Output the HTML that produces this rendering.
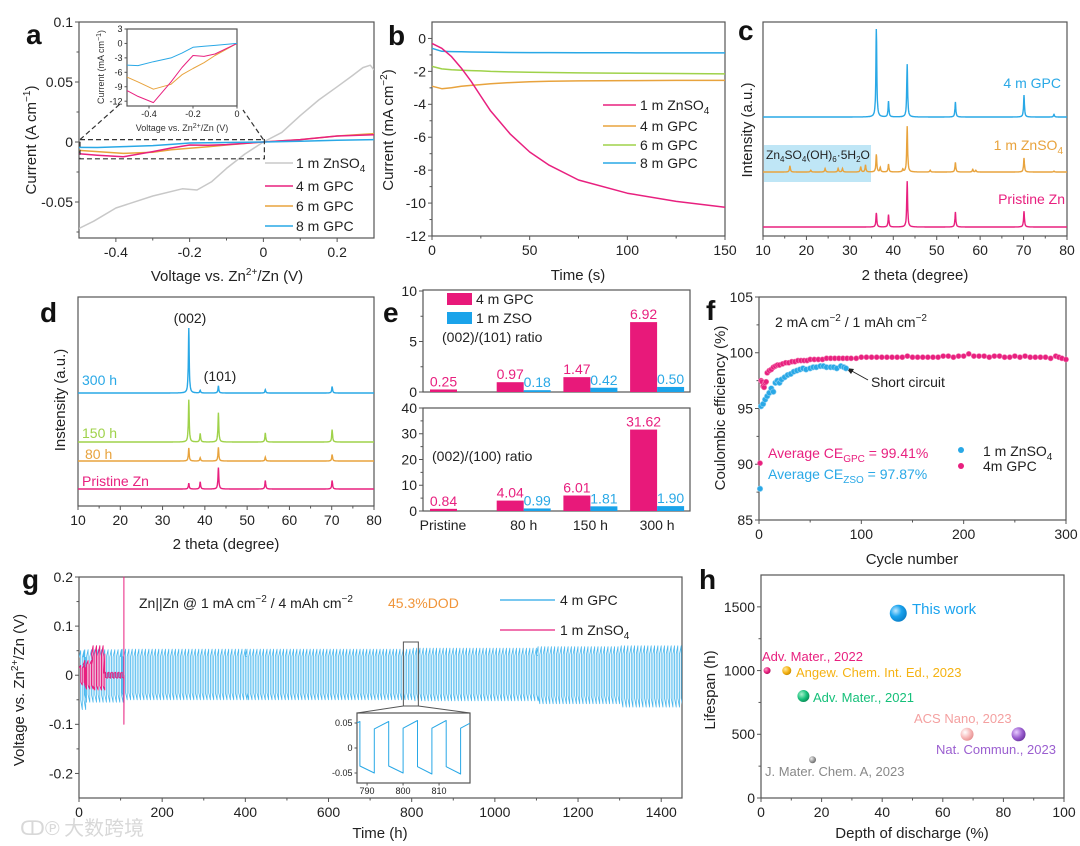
<!DOCTYPE html>
<html><head><meta charset="utf-8"><style>
html,body{margin:0;padding:0;background:#fff;}
svg{display:block;font-family:"Liberation Sans","Noto Sans CJK SC",sans-serif;}
.t{font-size:14px;fill:#222}
.ti{font-size:15px;fill:#222}
.pl{font-size:28px;font-weight:bold;fill:#111}
</style></head><body>
<svg id="fig" width="1080" height="846" viewBox="0 0 1080 846">
<defs>
<clipPath id="clipA"><rect x="79" y="22" width="295" height="216"/></clipPath>
<clipPath id="clipAi"><rect x="127" y="29" width="110" height="77"/></clipPath>
<clipPath id="clipG"><rect x="79" y="560" width="603" height="238"/></clipPath>
<clipPath id="clipGi"><rect x="357" y="713" width="113" height="70"/></clipPath>
<radialGradient id="gBlue" cx="35%" cy="35%" r="70%"><stop offset="0" stop-color="#bfe8ff"/><stop offset="0.5" stop-color="#1aa3ee"/><stop offset="1" stop-color="#0a7fc8"/></radialGradient>
<radialGradient id="gPink" cx="35%" cy="35%" r="70%"><stop offset="0" stop-color="#ff9cc4"/><stop offset="0.6" stop-color="#e8207f"/><stop offset="1" stop-color="#b0105e"/></radialGradient>
<radialGradient id="gOr" cx="35%" cy="35%" r="70%"><stop offset="0" stop-color="#ffe9a0"/><stop offset="0.6" stop-color="#f5b212"/><stop offset="1" stop-color="#c88a00"/></radialGradient>
<radialGradient id="gGr" cx="35%" cy="35%" r="70%"><stop offset="0" stop-color="#a8f0cc"/><stop offset="0.6" stop-color="#16c07a"/><stop offset="1" stop-color="#0a8a55"/></radialGradient>
<radialGradient id="gGy" cx="35%" cy="35%" r="70%"><stop offset="0" stop-color="#eee"/><stop offset="0.6" stop-color="#999"/><stop offset="1" stop-color="#666"/></radialGradient>
<radialGradient id="gLp" cx="35%" cy="35%" r="70%"><stop offset="0" stop-color="#fff"/><stop offset="0.6" stop-color="#f7b8b8"/><stop offset="1" stop-color="#e59090"/></radialGradient>
<radialGradient id="gPu" cx="35%" cy="35%" r="70%"><stop offset="0" stop-color="#e8ccff"/><stop offset="0.6" stop-color="#9b5fd0"/><stop offset="1" stop-color="#6c36a0"/></radialGradient>
</defs>

<text class="pl" x="26" y="44">a</text>
<text class="pl" x="388" y="45">b</text>
<text class="pl" x="738" y="40">c</text>
<text class="pl" x="40" y="322">d</text>
<text class="pl" x="383" y="322">e</text>
<text class="pl" x="706" y="320">f</text>
<text class="pl" x="22" y="589">g</text>
<text class="pl" x="699" y="589">h</text>

<text class="ti" transform="translate(36,140) rotate(-90)" text-anchor="middle">Current (A cm<tspan dy="-6" font-size="10">−1</tspan><tspan dy="6">)</tspan></text>
<text class="ti" x="227" y="281" text-anchor="middle">Voltage vs. Zn<tspan dy="-6" font-size="10">2+</tspan><tspan dy="6">/Zn (V)</tspan></text>
<text class="ti" transform="translate(393,130) rotate(-90)" text-anchor="middle">Current (mA cm<tspan dy="-6" font-size="10">−2</tspan><tspan dy="6">)</tspan></text>
<text class="ti" x="578" y="280" text-anchor="middle">Time (s)</text>
<text class="ti" transform="translate(752,130) rotate(-90)" text-anchor="middle">Intensity (a.u.)</text>
<text class="ti" x="915" y="280" text-anchor="middle">2 theta (degree)</text>
<text class="ti" transform="translate(65,400) rotate(-90)" text-anchor="middle">Instensity (a.u.)</text>
<text class="ti" x="226" y="549" text-anchor="middle">2 theta (degree)</text>
<text class="ti" transform="translate(725,408) rotate(-90)" text-anchor="middle">Coulombic efficiency (%)</text>
<text class="ti" x="912" y="564" text-anchor="middle">Cycle number</text>
<text class="ti" transform="translate(24,690) rotate(-90)" text-anchor="middle">Voltage vs. Zn<tspan dy="-6" font-size="10">2+</tspan><tspan dy="6">/Zn (V)</tspan></text>
<text class="ti" x="380" y="838" text-anchor="middle">Time (h)</text>
<text class="ti" transform="translate(715,690) rotate(-90)" text-anchor="middle">Lifespan (h)</text>
<text class="ti" x="912" y="838" text-anchor="middle">Depth of discharge (%)</text>

<g>
<line x1="265" y1="163" x2="293" y2="163" stroke="#c8c8c8" stroke-width="1.5"/><text class="t" x="296" y="168">1 m ZnSO<tspan dy="4" font-size="10">4</tspan></text>
<line x1="265" y1="186" x2="293" y2="186" stroke="#e8207f" stroke-width="1.5"/><text class="t" x="296" y="191">4 m GPC</text>
<line x1="265" y1="206" x2="293" y2="206" stroke="#e8a33d" stroke-width="1.5"/><text class="t" x="296" y="211">6 m GPC</text>
<line x1="265" y1="226" x2="293" y2="226" stroke="#29a8e6" stroke-width="1.5"/><text class="t" x="296" y="231">8 m GPC</text>
</g>
<text x="182" y="131" font-size="9" fill="#333" text-anchor="middle">Voltage vs. Zn<tspan dy="-3" font-size="7">2+</tspan><tspan dy="3">/Zn (V)</tspan></text>
<text transform="translate(104,67) rotate(-90)" font-size="9" fill="#333" text-anchor="middle">Current (mA cm<tspan dy="-3" font-size="7">−1</tspan><tspan dy="3">)</tspan></text>

<g>
<line x1="603" y1="105" x2="636" y2="105" stroke="#e8207f" stroke-width="1.5"/><text class="t" x="640" y="110">1 m ZnSO<tspan dy="4" font-size="10">4</tspan></text>
<line x1="603" y1="126" x2="636" y2="126" stroke="#e8a33d" stroke-width="1.5"/><text class="t" x="640" y="131">4 m GPC</text>
<line x1="603" y1="145" x2="636" y2="145" stroke="#9fd24a" stroke-width="1.5"/><text class="t" x="640" y="150">6 m GPC</text>
<line x1="603" y1="163" x2="636" y2="163" stroke="#29a8e6" stroke-width="1.5"/><text class="t" x="640" y="168">8 m GPC</text>
</g>

<rect x="764" y="145" width="107" height="37" fill="#bfe6f6"/>
<text x="766" y="159" font-size="12" fill="#222">Zn<tspan dy="3" font-size="8">4</tspan><tspan dy="-3">SO</tspan><tspan dy="3" font-size="8">4</tspan><tspan dy="-3">(OH)</tspan><tspan dy="3" font-size="8">6</tspan><tspan dy="-3">·5H</tspan><tspan dy="3" font-size="8">2</tspan><tspan dy="-3">O</tspan></text>
<text class="t" x="1061" y="88" text-anchor="end" style="fill:#29a8e6">4 m GPC</text>
<text class="t" x="1063" y="150" text-anchor="end" style="fill:#e8a33d">1 m ZnSO<tspan dy="4" font-size="10">4</tspan></text>
<text class="t" x="1065" y="204" text-anchor="end" style="fill:#e8207f">Pristine Zn</text>

<text class="t" x="82" y="385" style="fill:#29a8e6">300 h</text>
<text class="t" x="82" y="438" style="fill:#9fd24a">150 h</text>
<text class="t" x="85" y="459" style="fill:#e8a33d">80 h</text>
<text class="t" x="82" y="486" style="fill:#e8207f">Pristine Zn</text>
<text class="t" x="190" y="323" text-anchor="middle">(002)</text>
<text class="t" x="220" y="381" text-anchor="middle">(101)</text>

<g>
<rect x="447" y="293" width="25" height="12" fill="#e8197a"/><text class="t" x="476" y="304">4 m GPC</text>
<rect x="447" y="312" width="25" height="12" fill="#1aa3ea"/><text class="t" x="476" y="323">1 m ZSO</text>
</g>
<text class="t" x="442" y="342">(002)/(101) ratio</text>
<text class="t" x="432" y="461">(002)/(100) ratio</text>

<text class="t" x="775" y="327">2 mA cm<tspan dy="-6" font-size="10">−2</tspan><tspan dy="6"> / 1 mAh cm</tspan><tspan dy="-6" font-size="10">−2</tspan></text>
<text class="t" x="871" y="387">Short circuit</text>
<line x1="868" y1="380" x2="850" y2="370" stroke="#222" stroke-width="1"/>
<polygon points="846,368 854,369 851,374" fill="#222"/>
<text class="t" x="768" y="458" style="fill:#e8207f">Average CE<tspan dy="4" font-size="10">GPC</tspan><tspan dy="-4"> = 99.41%</tspan></text>
<text class="t" x="768" y="479" style="fill:#29a8e6">Average CE<tspan dy="4" font-size="10">ZSO</tspan><tspan dy="-4"> = 97.87%</tspan></text>
<g>
<circle cx="961" cy="450" r="3" fill="#29a8e6"/><text class="t" x="983" y="456">1 m ZnSO<tspan dy="4" font-size="10">4</tspan></text>
<circle cx="961" cy="466" r="3" fill="#e8207f"/><text class="t" x="983" y="471">4m GPC</text>
</g>

<text class="t" x="139" y="608">Zn||Zn @ 1 mA cm<tspan dy="-6" font-size="10">−2</tspan><tspan dy="6"> / 4 mAh cm</tspan><tspan dy="-6" font-size="10">−2</tspan></text>
<text class="t" x="388" y="608" style="fill:#f0953a">45.3%DOD</text>
<g>
<line x1="500" y1="600" x2="555" y2="600" stroke="#29a8e6" stroke-width="1.2"/><text class="t" x="560" y="605">4 m GPC</text>
<line x1="500" y1="630" x2="555" y2="630" stroke="#e8207f" stroke-width="1.2"/><text class="t" x="560" y="635">1 m ZnSO<tspan dy="4" font-size="10">4</tspan></text>
</g>
<text x="20" y="835" font-size="20" fill="#d8d8d8" font-family="'Noto Sans CJK SC',sans-serif">ↀ℗ 大数跨境</text>
</svg>
<script>
// ---------- DATA ----------
const aV = [-0.5,-0.46,-0.4,-0.3,-0.22,-0.18,-0.14,-0.1,-0.05,0,0.05,0.1,0.15,0.2,0.24,0.27,0.29,0.3];
const aGrey = [-0.072,-0.066,-0.055,-0.045,-0.039,-0.04,-0.033,-0.022,-0.01,0,0.008,0.022,0.035,0.046,0.055,0.062,0.064,0.06];
const aVg = [-0.5,-0.45,-0.38,-0.3,-0.25,-0.2,-0.15,-0.1,0,0.1,0.2,0.3];
const a4m = [-0.0098,-0.011,-0.0123,-0.008,-0.005,-0.0025,-0.0027,-0.0022,0,0.002,0.005,0.006];
const a6m = [-0.007,-0.008,-0.0095,-0.0085,-0.0065,-0.0052,-0.004,-0.0025,0,0.002,0.005,0.007];
const a8m = [-0.0045,-0.0046,-0.0038,-0.003,-0.002,-0.0008,-0.0006,-0.0004,0,0.0007,0.0014,0.002];
const bT = [0,5,10,15,20,25,30,40,50,60,75,100,125,150];
const b1m = [-0.3,-0.6,-1.1,-1.8,-2.6,-3.5,-4.4,-5.8,-6.9,-7.7,-8.6,-9.4,-9.9,-10.25];
const b4m = [-2.9,-3.05,-3.0,-2.9,-2.85,-2.8,-2.75,-2.68,-2.63,-2.6,-2.58,-2.56,-2.55,-2.55];
const b6m = [-1.7,-1.85,-1.9,-1.93,-1.95,-1.97,-2.0,-2.03,-2.05,-2.07,-2.09,-2.11,-2.13,-2.15];
const b8m = [-0.6,-0.78,-0.8,-0.81,-0.82,-0.83,-0.84,-0.85,-0.86,-0.86,-0.87,-0.87,-0.88,-0.88];
const cPos = [16.2,21,24.3,27.3,28.3,32.5,33.6,36.1,37,38.9,42.2,43.2,48.5,54.3,58.3,59,70.1,77];
const cGPC = [0,0,0,0,0,0,0,1.0,0,0.18,0,0.6,0,0.17,0,0,0.25,0.03];
const cZSO = [0.07,0.02,0.04,0.04,0.04,0.06,0.08,0.2,0.05,0.09,0.03,0.52,0.02,0.11,0.03,0.02,0.16,0.01];
const cPri = [0,0,0,0,0,0,0,0.16,0,0.14,0,0.52,0,0.17,0,0,0.18,0];
const dPos = [36.2,38.9,43.2,54.3,70.1];
const d300 = [1.0,0.04,0.11,0.05,0.1];
const d150 = [0.65,0.13,0.45,0.14,0.19];
const d80 = [0.2,0.05,0.21,0.06,0.1];
const dPri = [0.09,0.11,0.33,0.13,0.13];
const eCats = ['Pristine','80 h','150 h','300 h'];
const eTopGPC = [0.25,0.97,1.47,6.92];
const eTopZSO = [null,0.18,0.42,0.50];
const eBotGPC = [0.84,4.04,6.01,31.62];
const eBotZSO = [null,0.99,1.81,1.90];
const fCycGPC = [1,2,3,4,5,6,7,8,10,12,14,16,18,20,23,26,29,32,35,38,41,44,47,50,54,58,62,66,70,74,78,82,86,90,95,100,105,110,115,120,125,130,135,140,145,150,155,160,165,170,175,180,185,190,195,200,205,210,215,220,225,230,235,240,245,250,255,260,265,270,275,280,285,290,293,296,300];
const fCEGPC = [90.1,97.5,97.4,97.0,96.9,97.3,97.4,98.2,98.4,98.5,98.7,98.8,98.9,98.9,99.0,99.1,99.1,99.2,99.2,99.3,99.3,99.3,99.3,99.4,99.4,99.4,99.4,99.5,99.5,99.5,99.5,99.5,99.5,99.5,99.5,99.6,99.6,99.6,99.6,99.6,99.6,99.6,99.6,99.6,99.7,99.6,99.6,99.6,99.6,99.6,99.6,99.7,99.7,99.6,99.7,99.7,99.9,99.7,99.7,99.7,99.6,99.7,99.7,99.6,99.6,99.7,99.6,99.7,99.6,99.6,99.6,99.6,99.5,99.7,99.6,99.5,99.4];
const fCycZSO = [1,2,4,6,8,10,12,14,16,18,20,22,25,28,31,34,37,40,43,46,50,53,56,60,63,66,70,73,76,80,83,85];
const fCEZSO = [87.8,95.2,95.4,95.8,96.1,96.4,96.8,96.5,97.3,97.5,97.3,97.6,97.8,98.0,98.1,98.3,98.4,98.5,98.6,98.5,98.6,98.7,98.7,98.8,98.8,98.7,98.7,98.7,98.6,98.8,98.7,98.6];
const gPeriod = 8;
const gGPCStart = [0,10,100,400,800,1100,1300];
const gGPCPos = [0.05,0.052,0.053,0.053,0.055,0.058,0.06];
const gGPCNeg = [-0.07,-0.055,-0.05,-0.05,-0.052,-0.058,-0.065];
const gGPCEnd = 1450;
const gZSOStart = [0,10,30,60];
const gZSOPos = [0.02,0.03,0.06,0.006];
const gZSONeg = [-0.02,-0.028,-0.03,-0.006];
const gZSOEnd = 108;
const gZSOSpikeHi = 0.2;
const gZSOSpikeLo = -0.1;
const hDOD = [2,8.5,14,17,45.3,68,85];
const hLife = [1000,1000,800,300,1450,500,500];
const hNames = ['Adv. Mater., 2022','Angew. Chem. Int. Ed., 2023','Adv. Mater., 2021','J. Mater. Chem. A, 2023','This work','ACS Nano, 2023','Nat. Commun., 2023'];

// ---------- HELPERS ----------
const NS='http://www.w3.org/2000/svg';
const svg=document.getElementById('fig');
function mk(tag,attrs,name,parent){
  const el=document.createElementNS(NS,tag);
  for(const k in attrs) el.setAttribute(k,attrs[k]);
  
  
  (parent||svg).appendChild(el);return el;
}
function lin(d0,d1,r0,r1){return v=>r0+(v-d0)*(r1-r0)/(d1-d0);}
function axes(o){
  const X=lin(o.xd[0],o.xd[1],o.x0,o.x1), Y=lin(o.yd[0],o.yd[1],o.y1,o.y0);
  const g=mk('g',{},o.name+'-axes');
  mk('rect',{x:o.x0,y:o.y0,width:o.x1-o.x0,height:o.y1-o.y0,fill:'none',stroke:'#555','stroke-width':1.2},o.name+'-frame',g);
  const fs=o.fs||14;
  const tl=fs<12?2.5:4;
  (o.xt||[]).forEach((v,i)=>{const x=X(v);
    mk('line',{x1:x,y1:o.y1,x2:x,y2:o.y1+tl,stroke:'#555'},o.name+'-x-tick',g);
    const t=mk('text',{x:x,y:o.y1+fs+(fs<12?2:5),'text-anchor':'middle','font-size':fs,fill:'#222'},o.name+'-x-tick-label',g);t.textContent=o.xl?o.xl[i]:v;});
  (o.xm||[]).forEach(v=>{const x=X(v);mk('line',{x1:x,y1:o.y1,x2:x,y2:o.y1+2.5,stroke:'#555'},o.name+'-x-minor-tick',g);});
  (o.yt||[]).forEach((v,i)=>{const y=Y(v);
    mk('line',{x1:o.x0-tl,y1:y,x2:o.x0,y2:y,stroke:'#555'},o.name+'-y-tick',g);
    const t=mk('text',{x:o.x0-tl-2,y:y+fs*0.35,'text-anchor':'end','font-size':fs,fill:'#222'},o.name+'-y-tick-label',g);t.textContent=o.yl?o.yl[i]:v;});
  (o.ym||[]).forEach(v=>{const y=Y(v);mk('line',{x1:o.x0-2.5,y1:y,x2:o.x0,y2:y,stroke:'#555'},o.name+'-y-minor-tick',g);});
  return {X,Y};
}
function line(X,Y,xs,ys,color,name,clip,w){
  const pts=xs.map((x,i)=>X(x).toFixed(1)+','+Y(ys[i]).toFixed(1)).join(' ');
  const a={points:pts,fill:'none',stroke:color,'stroke-width':w||1.5,'stroke-linejoin':'round'};
  if(clip)a['clip-path']='url(#'+clip+')';
  return mk('polyline',a,name);
}
const PINK='#e8207f',BLUE='#29a8e6',ORG='#e8a33d',GRN='#9fd24a',GREY='#c8c8c8';

// ---------- PANEL A ----------
(function(){
  const A=axes({name:'a',x0:79,x1:374,y0:22,y1:238,xd:[-0.5,0.3],yd:[-0.08,0.1],xt:[-0.4,-0.2,0,0.2],xl:['-0.4','-0.2','0','0.2'],xm:[-0.3,-0.1,0.1],yt:[0.1,0.05,0,-0.05],yl:['0.1','0.05','0','-0.05'],ym:[0.075,0.025,-0.025,-0.075]});
  line(A.X,A.Y,aV,aGrey,GREY,'a-series-1m-znso4','clipA');
  line(A.X,A.Y,aVg,a6m,ORG,'a-series-6m-gpc','clipA');
  line(A.X,A.Y,aVg,a4m,PINK,'a-series-4m-gpc','clipA');
  line(A.X,A.Y,aVg,a8m,BLUE,'a-series-8m-gpc','clipA');
  const x1=A.X(-0.5),x2=A.X(0),y1=A.Y(0.002),y2=A.Y(-0.014);
  mk('rect',{x:x1+1,y:y1,width:x2-x1,height:y2-y1,fill:'none',stroke:'#333','stroke-dasharray':'5,3','stroke-width':1.2},'a-zoom-region');
  mk('line',{x1:x1+1,y1:y1,x2:120,y2:104,stroke:'#333','stroke-dasharray':'5,3','stroke-width':1.2},'a-zoom-connector-left');
  mk('line',{x1:x2,y1:y1,x2:243,y2:110,stroke:'#333','stroke-dasharray':'5,3','stroke-width':1.2},'a-zoom-connector-right');
  mk('rect',{x:126,y:28,width:112,height:80,fill:'#fff'},'a-inset-bg');
  const I=axes({name:'a-inset',x0:127,x1:237,y0:29,y1:106,xd:[-0.5,0],yd:[-13,3],xt:[-0.4,-0.2,0],xl:['-0.4','-0.2','0'],yt:[3,0,-3,-6,-9,-12],yl:['3','0','-3','-6','-9','-12'],fs:9});
  const mA=v=>v*1000;
  const sel=(xs,ys)=>{const px=[],py=[];xs.forEach((x,i)=>{if(x<=0){px.push(x);py.push(mA(ys[i]));}});return [px,py];};
  let s=sel(aVg,a6m);line(I.X,I.Y,s[0],s[1],ORG,'a-inset-6m-gpc','clipAi',1);
  s=sel(aVg,a4m);line(I.X,I.Y,s[0],s[1],PINK,'a-inset-4m-gpc','clipAi',1);
  s=sel(aVg,a8m);line(I.X,I.Y,s[0],s[1],BLUE,'a-inset-8m-gpc','clipAi',1);
})();

// ---------- PANEL B ----------
(function(){
  const yt=[0,-2,-4,-6,-8,-10,-12];
  const B=axes({name:'b',x0:432,x1:725,y0:22,y1:236,xd:[0,150],yd:[-12,1],xt:[0,50,100,150],xm:[25,75,125],yt:yt,yl:yt.map(String),ym:[-1,-3,-5,-7,-9,-11]});
  line(B.X,B.Y,bT,b4m,ORG,'b-series-4m-gpc');
  line(B.X,B.Y,bT,b6m,GRN,'b-series-6m-gpc');
  line(B.X,B.Y,bT,b8m,BLUE,'b-series-8m-gpc');
  line(B.X,B.Y,bT,b1m,PINK,'b-series-1m-znso4');
})();

function xrd(P,pos,h,base,scale,color,name,lo){
  const xs=[],ys=[];
  for(let x=lo;x<=80.001;x+=0.05){
    let v=0;pos.forEach((p,i)=>{const d=(x-p)/0.12;v+=h[i]/(1+d*d);});
    xs.push(x);ys.push(base-v*scale);
  }
  const pts=xs.map((x,i)=>P.X(x).toFixed(1)+','+ys[i].toFixed(1)).join(' ');
  mk('polyline',{points:pts,fill:'none',stroke:color,'stroke-width':1.4},name);
}
(function(){
  const t=[10,20,30,40,50,60,70,80];
  const C=axes({name:'c',x0:763,x1:1067,y0:22,y1:236,xd:[10,80],yd:[0,1],xt:t,xm:[15,25,35,45,55,65,75]});
  xrd(C,cPos,cGPC,117,88,BLUE,'c-series-4m-gpc',10);
  xrd(C,cPos,cZSO,172,88,ORG,'c-series-1m-znso4',10);
  xrd(C,cPos,cPri,227,88,PINK,'c-series-pristine',10);
})();
(function(){
  const t=[10,20,30,40,50,60,70,80];
  const D=axes({name:'d',x0:78,x1:374,y0:297,y1:506,xd:[10,80],yd:[0,1],xt:t,xm:[15,25,35,45,55,65,75]});
  xrd(D,dPos,d300,393,65,BLUE,'d-series-300h',10);
  xrd(D,dPos,d150,442,65,GRN,'d-series-150h',10);
  xrd(D,dPos,d80,461,65,ORG,'d-series-80h',10);
  xrd(D,dPos,dPri,489,65,PINK,'d-series-pristine',10);
})();

(function(){
  const T=axes({name:'e-top',x0:423,x1:690,y0:290,y1:392,xd:[0,4],yd:[0,10.1],yt:[0,5,10],yl:['0','5','10'],ym:[2.5,7.5]});
  const Bt=axes({name:'e-bottom',x0:423,x1:690,y0:408,y1:511,xd:[0,4],yd:[0,40],yt:[0,10,20,30,40],ym:[5,15,25,35]});
  const xc=i=>457+66.7*i, bw=27;
  function bars(P,vals,off,color,tcolor,name){
    vals.forEach((v,i)=>{ if(v===null)return;
      const x=xc(i)+off, y=P.Y(v), y0=P.Y(0);
      mk('rect',{x:x,y:y,width:bw,height:y0-y,fill:color},name+'-bar-'+i);
      const t=mk('text',{x:x+bw/2,y:y-3,'text-anchor':'middle','font-size':14,fill:tcolor},name+'-value-'+i);
      t.textContent=v.toFixed(2);
    });
  }
  bars(T,eTopGPC,-bw,'#e8197a',PINK,'e-top-gpc');
  bars(T,eTopZSO,0,'#1aa3ea',BLUE,'e-top-zso');
  bars(Bt,eBotGPC,-bw,'#e8197a',PINK,'e-bottom-gpc');
  bars(Bt,eBotZSO,0,'#1aa3ea',BLUE,'e-bottom-zso');
  eCats.forEach((c,i)=>{const t=mk('text',{x:i===0?443:xc(i),y:530,'text-anchor':'middle','font-size':14,fill:'#222'},'e-category-label');t.textContent=c;});
})();

(function(){
  const F=axes({name:'f',x0:759,x1:1066,y0:297,y1:520,xd:[0,300],yd:[85,105],xt:[0,100,200,300],xm:[50,150,250],yt:[85,90,95,100,105],ym:[87.5,92.5,97.5,102.5]});
  fCycGPC.forEach((c,i)=>mk('circle',{cx:F.X(c),cy:F.Y(fCEGPC[i]),r:2.6,fill:PINK,stroke:'#f27ab0','stroke-width':0.6},'f-point-gpc'));
  fCycZSO.forEach((c,i)=>mk('circle',{cx:F.X(c),cy:F.Y(fCEZSO[i]),r:2.8,fill:BLUE,stroke:'#8fd0f2','stroke-width':0.6},'f-point-zso'));
})();

function wave(starts,pos,neg,end,t0,t1){
  const xs=[],ys=[];
  for(let k=0;k<starts.length;k++){
    const s=starts[k], e=(k+1<starts.length)?starts[k+1]:end;
    for(let t=s;t<e-0.001;t+=gPeriod){
      if(t+gPeriod<t0||t>t1)continue;
      const h=gPeriod/2;
      xs.push(t,t+h,t+h,t+gPeriod,t+gPeriod);
      ys.push(pos[k]*0.72,pos[k],neg[k]*0.72,neg[k],pos[k]*0.72);
    }
  }
  return [xs,ys];
}
(function(){
  const G=axes({name:'g',x0:79,x1:682,y0:577,y1:798,xd:[0,1450],yd:[-0.25,0.2],xt:[0,200,400,600,800,1000,1200,1400],xm:[100,300,500,700,900,1100,1300],yt:[0.2,0.1,0,-0.1,-0.2],yl:['0.2','0.1','0','-0.1','-0.2'],ym:[0.15,0.05,-0.05,-0.15]});
  let w=wave(gGPCStart,gGPCPos,gGPCNeg,gGPCEnd,0,1450);
  line(G.X,G.Y,w[0],w[1],'#4bb8ee','g-series-4m-gpc','clipG',0.8);
  w=wave(gZSOStart,gZSOPos,gZSONeg,gZSOEnd,0,gZSOEnd);
  w[0].push(gZSOEnd,gZSOEnd,gZSOEnd+0.5,gZSOEnd+1);w[1].push(gZSOSpikeHi,gZSOSpikeLo,0,0);
  line(G.X,G.Y,w[0],w[1],PINK,'g-series-1m-znso4','clipG',1);
  mk('rect',{x:G.X(780),y:642,width:G.X(816)-G.X(780),height:64,fill:'none',stroke:'#555','stroke-width':1},'g-zoom-box');
  mk('line',{x1:G.X(780),y1:706,x2:357,y2:713,stroke:'#555'},'g-zoom-connector-left');
  mk('line',{x1:G.X(816),y1:706,x2:470,y2:713,stroke:'#555'},'g-zoom-connector-right');
  mk('rect',{x:357,y:713,width:113,height:70,fill:'#fff'},'g-inset-bg');
  const I=axes({name:'g-inset',x0:357,x1:470,y0:713,y1:783,xd:[787.2,818.6],yd:[-0.07,0.07],xt:[790,800,810],yt:[0.05,0,-0.05],yl:['0.05','0','-0.05'],fs:9});
  w=wave(gGPCStart,gGPCPos,gGPCNeg,gGPCEnd,787,819);
  line(I.X,I.Y,w[0],w[1],BLUE,'g-inset-4m-gpc','clipGi',1);
})();

(function(){
  const H=axes({name:'h',x0:761,x1:1064,y0:575,y1:798,xd:[0,100],yd:[0,1750],xt:[0,20,40,60,80,100],xm:[10,30,50,70,90],yt:[0,500,1000,1500],ym:[250,750,1250]});
  const fills=['url(#gPink)','url(#gOr)','url(#gGr)','url(#gGy)','url(#gBlue)','url(#gLp)','url(#gPu)'];
  const rs=[3.5,4.5,6,3.5,8.5,6.5,7];
  const cols=['#e8207f','#f5b212','#16c07a','#888','#1aa3ee','#f4a0a0','#9b5fd0'];
  const lx=[762,796,813,765,912,914,936], ly=[661,677,702,776,614,723,754];
  hDOD.forEach((d,i)=>{
    mk('circle',{cx:H.X(d),cy:H.Y(hLife[i]),r:rs[i],fill:fills[i]},'h-point-'+i);
    const t=mk('text',{x:lx[i],y:ly[i],'font-size':i===4?15:13,fill:cols[i]},'h-label-'+i);
    t.textContent=hNames[i];
  });
})();
</script>
</body></html>
